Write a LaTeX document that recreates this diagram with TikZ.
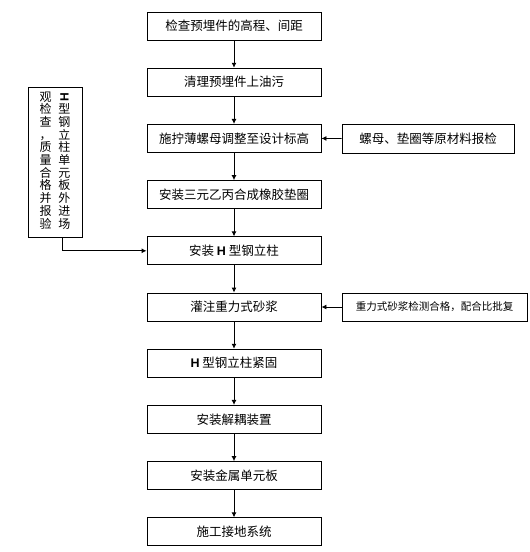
\documentclass[tikz,border=0pt]{standalone}
\usepackage{fontspec}
\setmainfont{Noto Sans CJK SC}
\newfontfamily\hfont{Liberation Sans}
\usetikzlibrary{arrows.meta}
\def\Hbold{{\hfont\bfseries H}}
\def\vc#1{\smash{#1}}

\begin{document}
\begin{tikzpicture}[x=1pt, y=-1pt,
	stepbox/.style={draw, line width=0.9pt, minimum width=174pt, minimum height=28pt, inner sep=0pt, font=\fontsize{12.5}{14}\selectfont},
	sidebox/.style={draw, line width=0.9pt, minimum height=29pt, inner sep=0pt},
	flow/.style={line width=0.9pt, -{Latex[length=5pt, width=5pt]}}]
			%%%%% START %%%%%
			
			\useasboundingbox (0, 0) rectangle (530, 552);
			
			\node[stepbox] (check) at (234, 26) {检查预埋件的高程、间距};
			\node[stepbox] (clean) at (234, 82.2) {清理预埋件上油污};
			\node[stepbox] (nut) at (234, 138.4) {施拧薄螺母调整至设计标高};
			\node[stepbox] (ring) at (234, 194.6) {安装三元乙丙合成橡胶垫圈};
			\node[stepbox] (column) at (234, 250.8) {安装 \Hbold{} 型钢立柱};
			\node[stepbox] (mortar) at (234, 307) {灌注重力式砂浆};
			\node[stepbox] (fasten) at (234, 363.2) {\Hbold{} 型钢立柱紧固};
			\node[stepbox] (decouple) at (234, 419.4) {安装解耦装置};
			\node[stepbox] (panel) at (234, 475.6) {安装金属单元板};
			\node[stepbox] (ground) at (234, 531.8) {施工接地系统};
			
			\node[sidebox, minimum width=172pt, font=\fontsize{12.5}{14}\selectfont] (material) at (428, 138.5) {螺母、垫圈等原材料报检};
			\node[sidebox, minimum width=185pt, minimum height=28pt, font=\fontsize{10.5}{12}\selectfont] (test) at (434.5, 307) {重力式砂浆检测合格，配合比批复};
			
			\node[draw, line width=0.9pt, minimum width=54pt, minimum height=150pt, inner sep=0pt, font=\fontsize{12}{12.7}\selectfont] (incoming) at (55, 162)
			{\begin{tabular}{@{}c@{\hspace{7pt}}c@{}}
				\vc{观} & \vc{\rotatebox[origin=c]{90}{\Hbold}} \\
				\vc{检} & \vc{型} \\
				\vc{查} & \vc{钢} \\
				\vc{，} & \vc{立} \\
				\vc{质} & \vc{柱} \\
				\vc{量} & \vc{单} \\
				\vc{合} & \vc{元} \\
				\vc{格} & \vc{板} \\
				\vc{并} & \vc{外} \\
				\vc{报} & \vc{进} \\
				\vc{验} & \vc{场}
			\end{tabular}};
			
			\draw[flow] (check) -- (clean);
			\draw[flow] (clean) -- (nut);
			\draw[flow] (nut) -- (ring);
			\draw[flow] (ring) -- (column);
			\draw[flow] (column) -- (mortar);
			\draw[flow] (mortar) -- (fasten);
			\draw[flow] (fasten) -- (decouple);
			\draw[flow] (decouple) -- (panel);
			\draw[flow] (panel) -- (ground);
			
			\draw[flow] (material) -- (nut);
			\draw[flow] (test) -- (mortar);
			\draw[flow] ([xshift=7pt]incoming.south) |- (column.west);
			
			%%%%% END %%%%%
\end{tikzpicture}
\end{document}
